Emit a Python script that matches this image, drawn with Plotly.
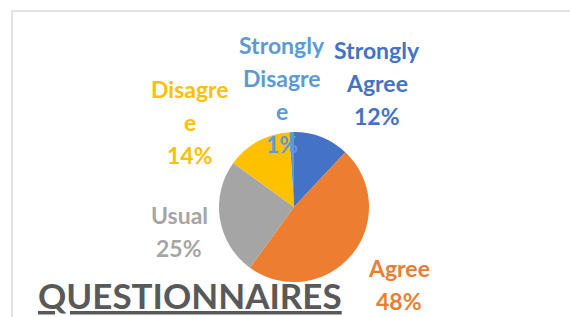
import plotly.graph_objects as go

categories = ["Strongly Agree", "Agree", "Usual", "Disagree", "Strongly Disagree"]
values = [12, 48, 25, 14, 1]
colors = ["#4472C4", "#ED7D31", "#A5A5A5", "#FFC000", "#5B9BD5"]
label_lines = [
    ["Strongly", "Agree", "12%"],
    ["Agree", "48%"],
    ["Usual", "25%"],
    ["Disagre", "e", "14%"],
    ["Strongly", "Disagre", "e", "1%"],
]
title_text = "QUESTIONNAIRES"

W, H = 570, 317
# label block positions (pixel centre x, first line centre y)
label_pos = [(377, 50), (399, 268), (179, 215), (190, 89), (282, 45)]
line_gap = 33

fig = go.Figure()
cx, cy, r = 294, 207, 75
fig.add_trace(go.Pie(
    labels=categories, values=values, sort=False, direction="clockwise", rotation=0,
    marker=dict(colors=colors, line=dict(color="white", width=0)),
    textinfo="none", hoverinfo="label+percent", showlegend=False,
    domain=dict(x=[(cx - r) / W, (cx + r) / W], y=[(H - cy - r) / H, (H - cy + r) / H]),
))

annotations = []
for lines, (px, py), col in zip(label_lines, label_pos, colors):
    for i, ln in enumerate(lines):
        annotations.append(dict(
            x=px / W, y=1 - (py + i * line_gap) / H, xref="paper", yref="paper",
            text=ln, showarrow=False, xanchor="center", yanchor="middle",
            font=dict(family="Lato", size=23, color=col, weight="bold"),
        ))
annotations.append(dict(
    x=36 / W, y=1 - 295 / H, xref="paper", yref="paper",
    text="<u>" + title_text + "</u>", showarrow=False, xanchor="left", yanchor="middle",
    font=dict(family="Lato", size=35, color="#595959", weight="bold"),
))

fig.update_layout(
    width=W, height=H, margin=dict(l=0, r=0, t=0, b=0),
    paper_bgcolor="white", plot_bgcolor="white",
    annotations=annotations,
    shapes=[dict(type="rect", xref="paper", yref="paper",
                 x0=12 / W, x1=1.05, y0=-0.05, y1=1 - 11 / H,
                 line=dict(color="#D9D9D9", width=1.5), layer="below")],
)
fig.write_html("out.html", config={"displayModeBar": False},
               post_script="document.body.style.margin='0';")
